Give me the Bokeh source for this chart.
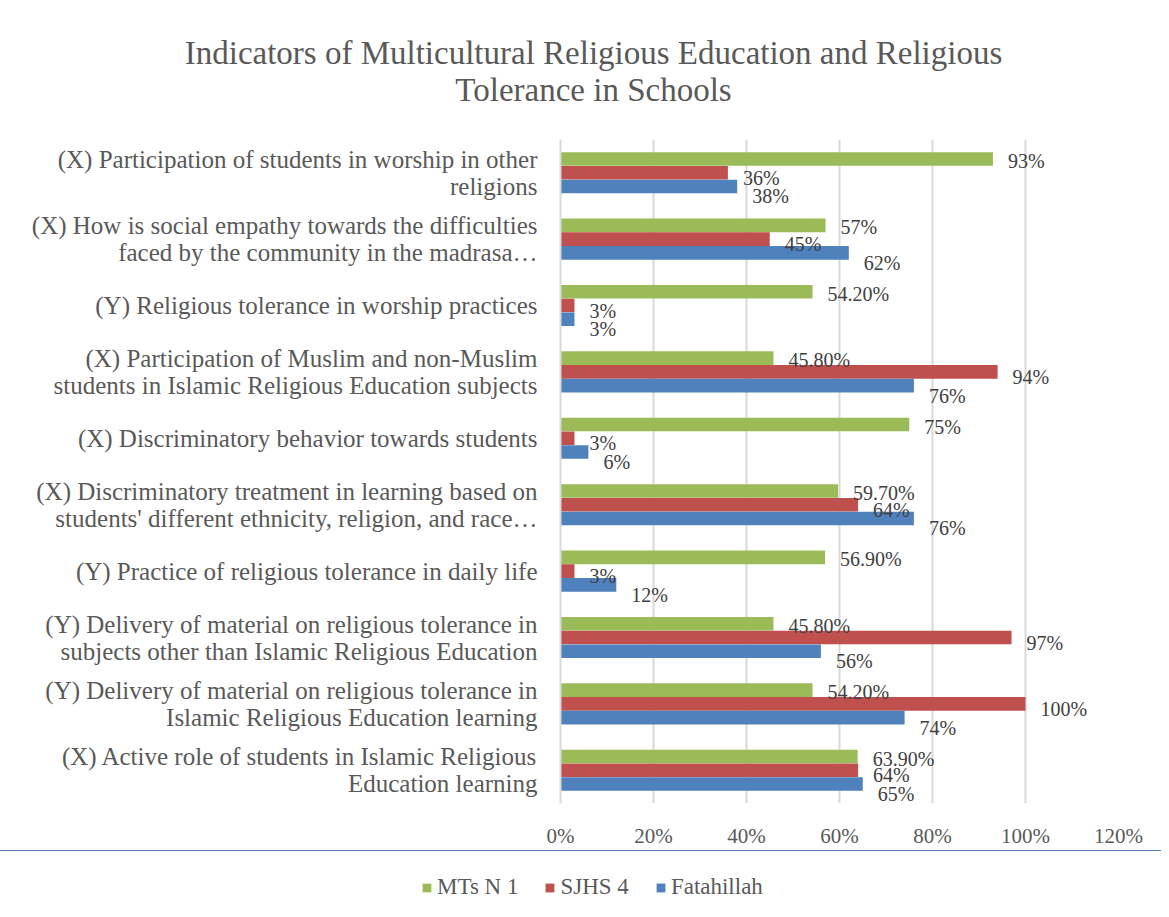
from bokeh.plotting import figure
from bokeh.layouts import column
from bokeh.models import (FactorRange, Range1d, Legend, LegendItem, ColumnDataSource,
                          FixedTicker, PrintfTickFormatter, Plot)
from bokeh.transform import dodge
from bokeh.core.properties import value
from bokeh.embed import file_html
from bokeh.resources import INLINE

categories = [
    "(X) Participation of students in worship in other\nreligions",
    "(X) How is social empathy towards the difficulties\nfaced by the community in the madrasa…",
    "(Y) Religious tolerance in worship practices",
    "(X) Participation of Muslim and non-Muslim\nstudents in Islamic Religious Education subjects",
    "(X) Discriminatory behavior towards students",
    "(X) Discriminatory treatment in learning based on\nstudents' different ethnicity, religion, and race…",
    "(Y) Practice of religious tolerance in daily life",
    "(Y) Delivery of material on religious tolerance in\nsubjects other than Islamic Religious Education",
    "(Y) Delivery of material on religious tolerance in\nIslamic Religious Education learning",
    "(X) Active role of students in Islamic Religious\nEducation learning",
]
mts_n1 = [93, 57, 54.2, 45.8, 75, 59.7, 56.9, 45.8, 54.2, 63.9]
sjhs4 = [36, 45, 3, 94, 3, 64, 3, 97, 100, 64]
fatahillah = [38, 62, 3, 76, 6, 76, 12, 56, 74, 65]
series_names = ["MTs N 1", "SJHS 4", "Fatahillah"]
x_ticks = [0, 20, 40, 60, 80, 100, 120]
title_lines = ["Indicators of Multicultural Religious Education and Religious",
               "Tolerance in Schools"]

FONT = "Liberation Serif"
TXT = "#595959"
colors = ["#9BBB59", "#C0504D", "#4F81BD"]
offsets = [0.207, 0.0, -0.207]
label_dy = [2, 5, 10]
W = 1161
HAS_FRAME_ALIGN = "frame_align" in Plot.properties()


def fmt(v):
    return f"{v:.0f}%" if float(v).is_integer() else f"{v:.2f}%"


def bare(fig):
    fig.outline_line_color = None
    for g in fig.grid:
        g.visible = False


def no_align(fig):
    if HAS_FRAME_ALIGN:
        fig.frame_align = False


# ---- title strip ----
pt = figure(width=W, height=139, output_backend="svg", toolbar_location=None,
            x_range=Range1d(0, W), y_range=Range1d(139, 0),
            x_axis_location=None, y_axis_location=None, min_border=0)
bare(pt)
no_align(pt)
pt.text(x=[593, 593], y=[52, 89], text=title_lines, text_align="center", text_baseline="middle",
        text_font=value(FONT), text_font_size="33px", text_color=TXT)

# ---- main chart ----
p = figure(frame_width=558, frame_height=664, output_backend="svg", toolbar_location=None,
           y_range=FactorRange(factors=list(reversed(categories)), range_padding=0),
           x_range=Range1d(0, 120),
           min_border_left=560, min_border_right=43, min_border_top=0, min_border_bottom=47)
p.outline_line_color = None
no_align(p)

series = [mts_n1, sjhs4, fatahillah]
sources = [ColumnDataSource(dict(cat=categories, v=vals, lbl=[fmt(v) for v in vals])) for vals in series]
for src, col, off in zip(sources, colors, offsets):
    p.hbar(y=dodge("cat", off, range=p.y_range), right="v", left=0, height=0.205,
           source=src, fill_color=col, line_color=None)
for src, off, dy in zip(sources, offsets, label_dy):
    p.text(x="v", y=dodge("cat", off, range=p.y_range), text="lbl", source=src,
           x_offset=15, y_offset=dy, text_baseline="middle", text_align="left",
           text_font=value(FONT), text_font_size="20px", text_color="#404040")

p.xaxis.ticker = FixedTicker(ticks=x_ticks)
p.xaxis.formatter = PrintfTickFormatter(format="%d%%")
p.xaxis.axis_line_color = None
p.xaxis.major_tick_line_color = None
p.xaxis.minor_tick_line_color = None
p.xaxis.major_label_text_font = FONT
p.xaxis.major_label_text_font_size = "21px"
p.xaxis.major_label_text_color = TXT
p.xaxis.major_label_standoff = 14

p.yaxis.axis_line_color = "#d9d9d9"
p.yaxis.axis_line_width = 2
p.yaxis.major_tick_line_color = None
p.yaxis.minor_tick_line_color = None
p.yaxis.major_label_text_font = FONT
p.yaxis.major_label_text_font_size = "25px"
p.yaxis.major_label_text_line_height = 1.0
p.yaxis.major_label_text_color = TXT
p.yaxis.major_label_standoff = 17

p.xgrid.grid_line_color = "#d9d9d9"
p.xgrid.grid_line_width = 2
p.ygrid.grid_line_color = None

# ---- legend strip ----
pl = figure(width=W, height=60, output_backend="svg", toolbar_location=None,
            x_range=Range1d(0, 1), y_range=Range1d(0, 1),
            x_axis_location=None, y_axis_location=None, min_border=0)
bare(pl)
no_align(pl)
items = []
for name, col, src in zip(series_names, colors, sources):
    # same data, but it falls outside this strip's ranges: only the legend swatch shows
    r = pl.hbar(y="v", right="v", left=0, height=0.5, source=src, fill_color=col, line_color=None)
    items.append(LegendItem(label=name, renderers=[r]))
legend = Legend(items=items, orientation="horizontal", location=(421, 10),
                border_line_color=None, background_fill_alpha=0,
                label_text_font=FONT, label_text_font_size="23px",
                label_text_color=TXT, glyph_width=11, glyph_height=11, spacing=26,
                label_standoff=5, margin=0, padding=4)
pl.add_layout(legend, "center")

layout = column(pt, p, pl, spacing=0)
open("out.html", "w").write(file_html(layout, INLINE))
